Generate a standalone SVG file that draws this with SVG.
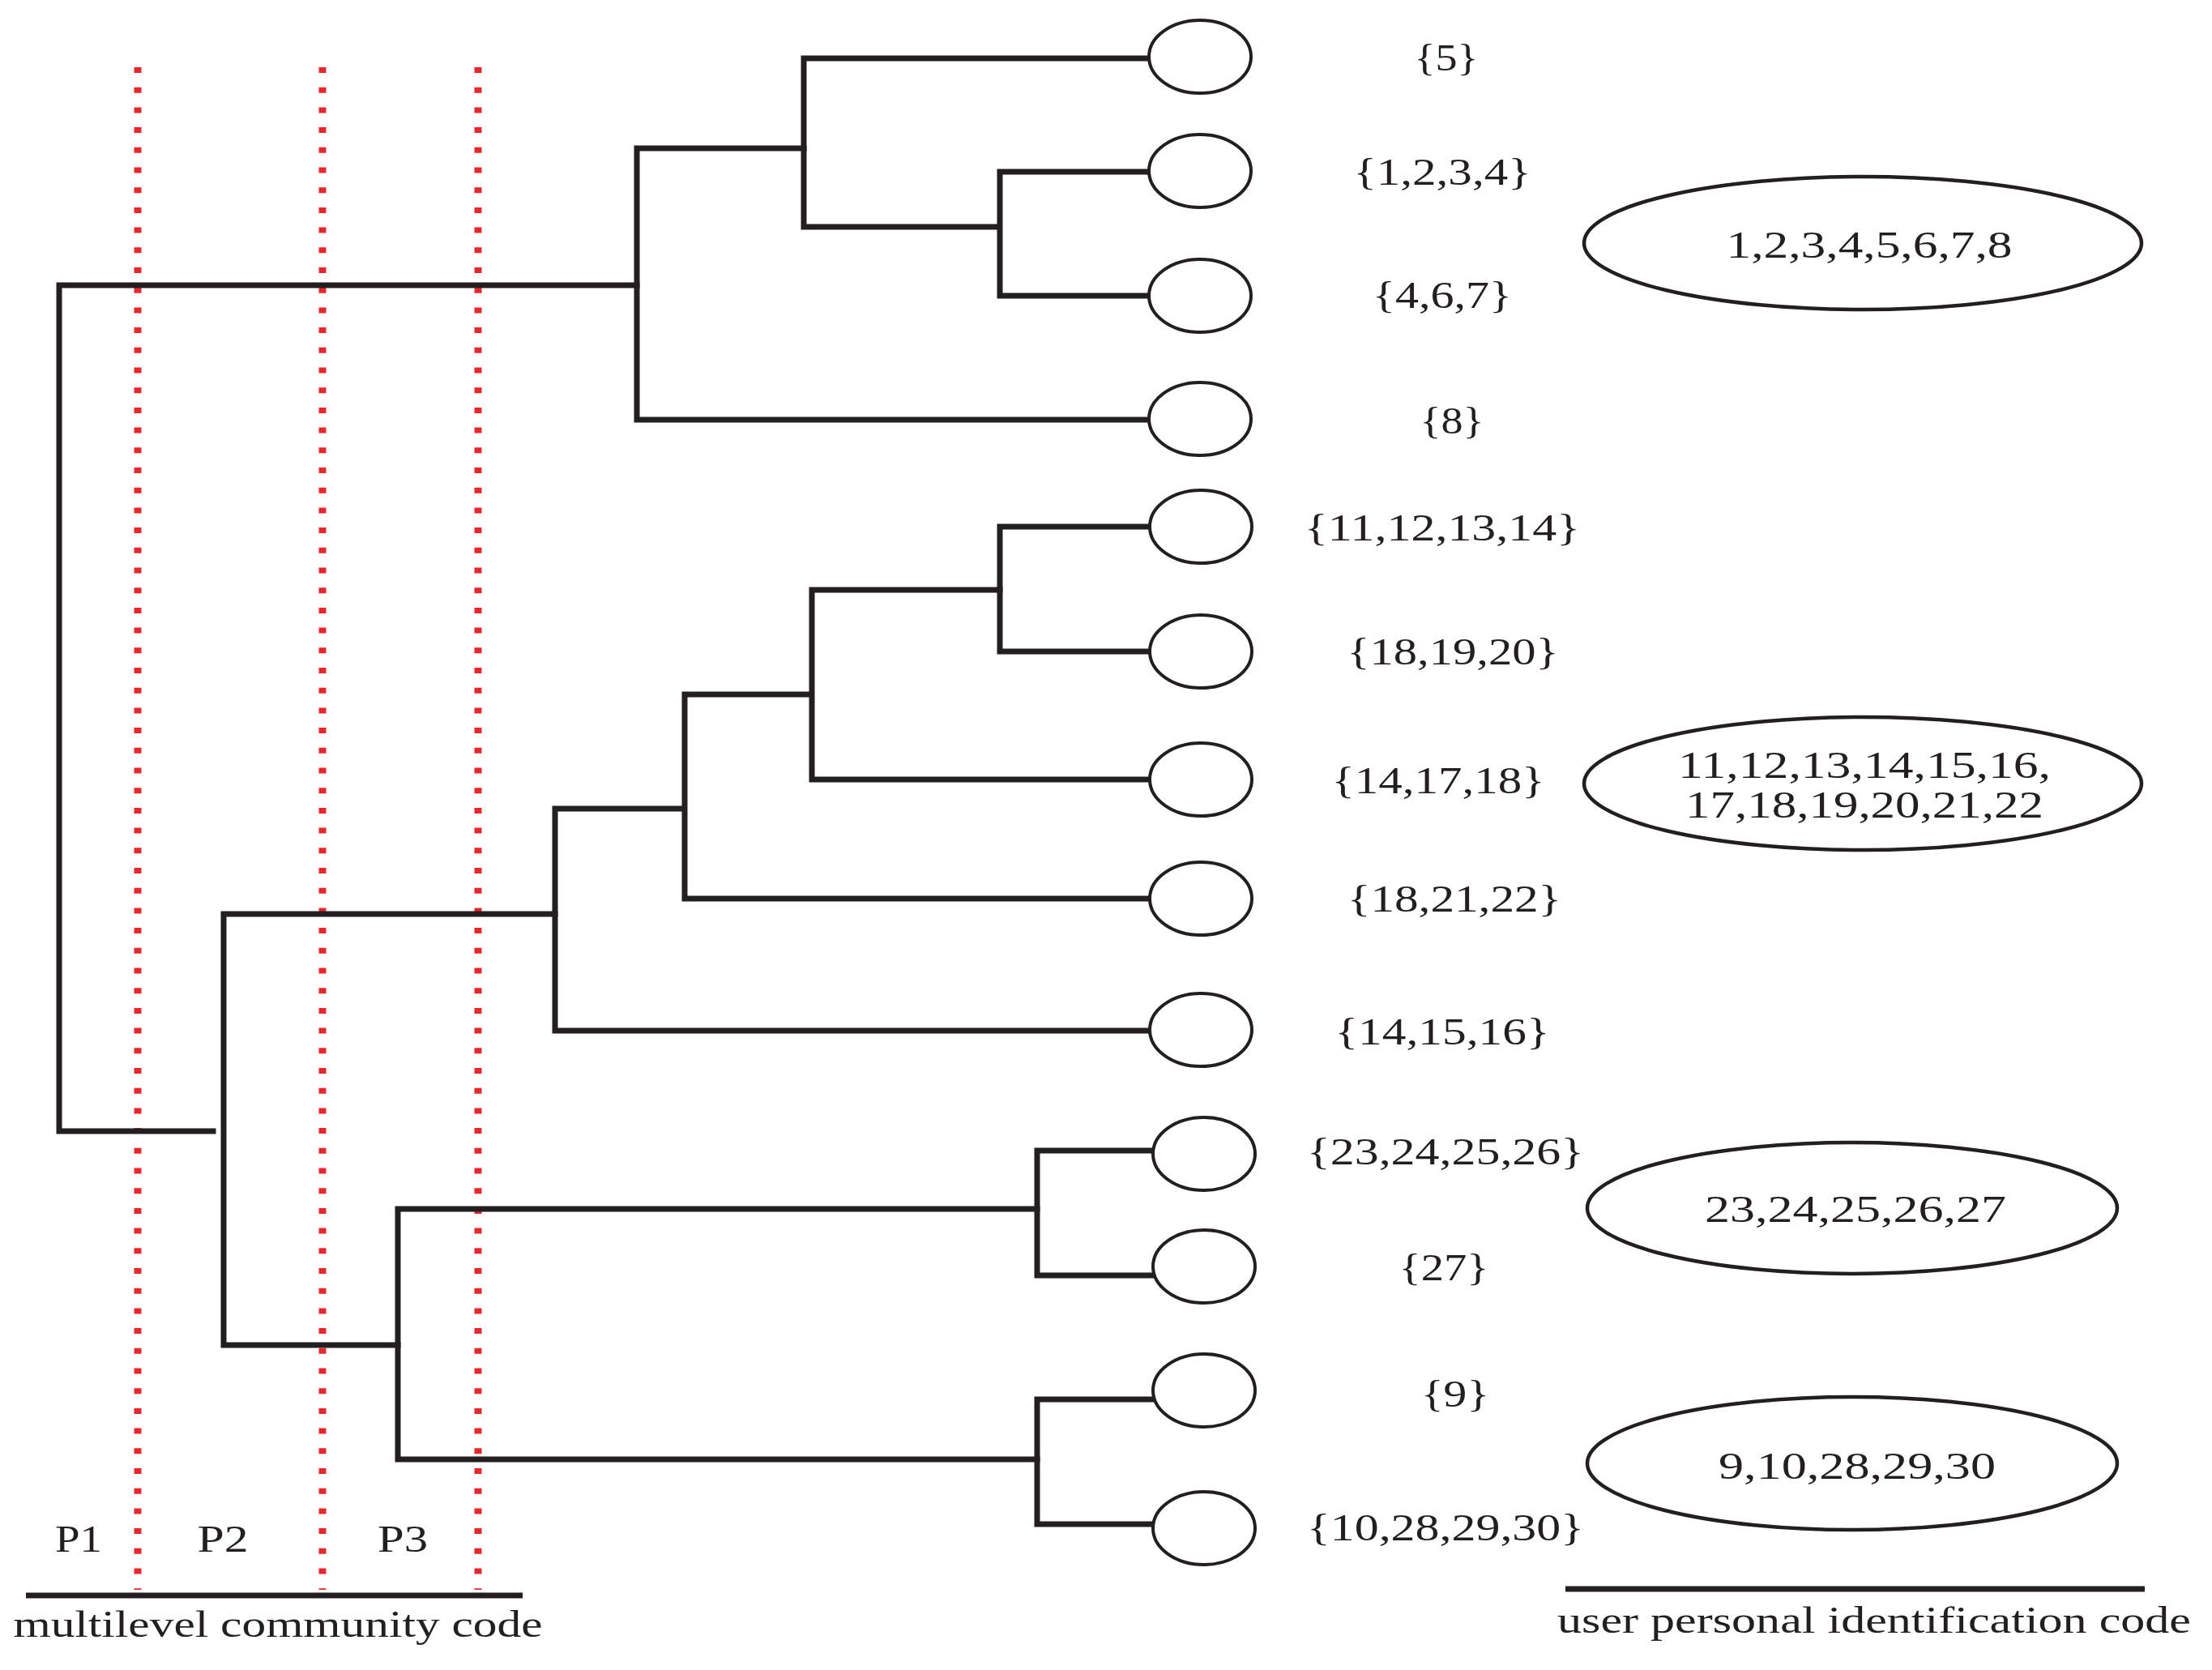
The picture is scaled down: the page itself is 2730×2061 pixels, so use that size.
<svg xmlns="http://www.w3.org/2000/svg" width="2730" height="2061" viewBox="0 0 2730 2061">
<style>
.ln{fill:none;stroke:#231f20;stroke-width:7;stroke-linecap:square}
.leaf{fill:#fff;stroke:#231f20;stroke-width:4}
.big{fill:#fff;stroke:#231f20;stroke-width:4.5}
.red{fill:none;stroke:#e6282d;stroke-width:9;stroke-dasharray:7 17.7}
.bar{stroke:#231f20;stroke-width:7}
text{font-family:"Liberation Serif","Times New Roman",serif;fill:#231f20;font-size:47px;text-anchor:middle}
</style>
<rect width="2730" height="2061" fill="#fff"/>
<g id="levels">
<line class="red" x1="170" y1="83" x2="170" y2="1962"/>
<line class="red" x1="398" y1="83" x2="398" y2="1962"/>
<line class="red" x1="590" y1="83" x2="590" y2="1962"/>
</g>
<g id="connectors">
<path class="ln" d="M263,1396 H73 V352 H786"/>
<path class="ln" d="M992,183 H786 V518 H1418"/>
<path class="ln" d="M1418,72 H992 V280 H1229"/>
<path class="ln" d="M1418,212 H1234 V365 H1418"/>
<path class="ln" d="M685,1128 H276 V1660 H491"/>
<path class="ln" d="M844,998 H685 V1272 H1420"/>
<path class="ln" d="M1000,857 H845 V1109 H1420"/>
<path class="ln" d="M1234,728 H1002 V962 H1420"/>
<path class="ln" d="M1420,650 H1234 V804 H1420"/>
<path class="ln" d="M1280,1492 H491 V1801 H1280"/>
<path class="ln" d="M1423,1420 H1280 V1574 H1423"/>
<path class="ln" d="M1423,1727 H1280 V1881 H1423"/>
</g>
<g id="leaf1"><ellipse class="leaf" cx="1481" cy="70" rx="63" ry="45"/><text x="1785" y="87" textLength="79" lengthAdjust="spacingAndGlyphs">{5}</text></g>
<g id="leaf2"><ellipse class="leaf" cx="1481" cy="211" rx="63" ry="45"/><text x="1780" y="228" textLength="219" lengthAdjust="spacingAndGlyphs">{1,2,3,4}</text></g>
<g id="leaf3"><ellipse class="leaf" cx="1481" cy="365" rx="63" ry="45"/><text x="1780" y="380" textLength="172" lengthAdjust="spacingAndGlyphs">{4,6,7}</text></g>
<g id="leaf4"><ellipse class="leaf" cx="1481" cy="517" rx="63" ry="45"/><text x="1792" y="535" textLength="79" lengthAdjust="spacingAndGlyphs">{8}</text></g>
<g id="leaf5"><ellipse class="leaf" cx="1482" cy="650" rx="63" ry="45"/><text x="1780" y="667" textLength="340" lengthAdjust="spacingAndGlyphs">{11,12,13,14}</text></g>
<g id="leaf6"><ellipse class="leaf" cx="1482" cy="804" rx="63" ry="45"/><text x="1793" y="820" textLength="261" lengthAdjust="spacingAndGlyphs">{18,19,20}</text></g>
<g id="leaf7"><ellipse class="leaf" cx="1482" cy="962" rx="63" ry="45"/><text x="1775" y="979" textLength="263" lengthAdjust="spacingAndGlyphs">{14,17,18}</text></g>
<g id="leaf8"><ellipse class="leaf" cx="1482" cy="1109" rx="63" ry="45"/><text x="1795" y="1125" textLength="264" lengthAdjust="spacingAndGlyphs">{18,21,22}</text></g>
<g id="leaf9"><ellipse class="leaf" cx="1482" cy="1271" rx="63" ry="45"/><text x="1780" y="1289" textLength="265" lengthAdjust="spacingAndGlyphs">{14,15,16}</text></g>
<g id="leaf10"><ellipse class="leaf" cx="1486" cy="1424" rx="63" ry="45"/><text x="1784" y="1437" textLength="342" lengthAdjust="spacingAndGlyphs">{23,24,25,26}</text></g>
<g id="leaf11"><ellipse class="leaf" cx="1486" cy="1563" rx="63" ry="45"/><text x="1782" y="1580" textLength="111" lengthAdjust="spacingAndGlyphs">{27}</text></g>
<g id="leaf12"><ellipse class="leaf" cx="1486" cy="1716" rx="63" ry="45"/><text x="1796" y="1736" textLength="84" lengthAdjust="spacingAndGlyphs">{9}</text></g>
<g id="leaf13"><ellipse class="leaf" cx="1486" cy="1886" rx="63" ry="45"/><text x="1784" y="1901" textLength="342" lengthAdjust="spacingAndGlyphs">{10,28,29,30}</text></g>
<g id="code1"><ellipse class="big" cx="2299" cy="300" rx="344" ry="82"/><text x="2307" y="318" textLength="353" lengthAdjust="spacingAndGlyphs">1,2,3,4,5,6,7,8</text></g>
<g id="code2"><ellipse class="big" cx="2299" cy="967" rx="344" ry="82"/><text x="2301" y="960" textLength="460" lengthAdjust="spacingAndGlyphs">11,12,13,14,15,16,</text><text x="2301" y="1009" textLength="442" lengthAdjust="spacingAndGlyphs">17,18,19,20,21,22</text></g>
<g id="code3"><ellipse class="big" cx="2286" cy="1491" rx="327" ry="81"/><text x="2290" y="1508" textLength="372" lengthAdjust="spacingAndGlyphs">23,24,25,26,27</text></g>
<g id="code4"><ellipse class="big" cx="2286" cy="1806" rx="327" ry="82"/><text x="2292" y="1825" textLength="342" lengthAdjust="spacingAndGlyphs">9,10,28,29,30</text></g>
<g id="legend-left">
<text x="97" y="1915" font-size="48" textLength="58" lengthAdjust="spacingAndGlyphs">P1</text>
<text x="275" y="1915" font-size="48" textLength="63" lengthAdjust="spacingAndGlyphs">P2</text>
<text x="497" y="1915" font-size="48" textLength="62" lengthAdjust="spacingAndGlyphs">P3</text>
<line class="bar" x1="32" y1="1969" x2="645" y2="1969"/>
<text x="343" y="2020" textLength="653" lengthAdjust="spacingAndGlyphs">multilevel community code</text>
</g>
<g id="legend-right">
<line class="bar" x1="1932" y1="1961" x2="2647" y2="1961"/>
<text x="2313" y="2015" font-size="50" textLength="782" lengthAdjust="spacingAndGlyphs">user personal identification code</text>
</g>
</svg>
